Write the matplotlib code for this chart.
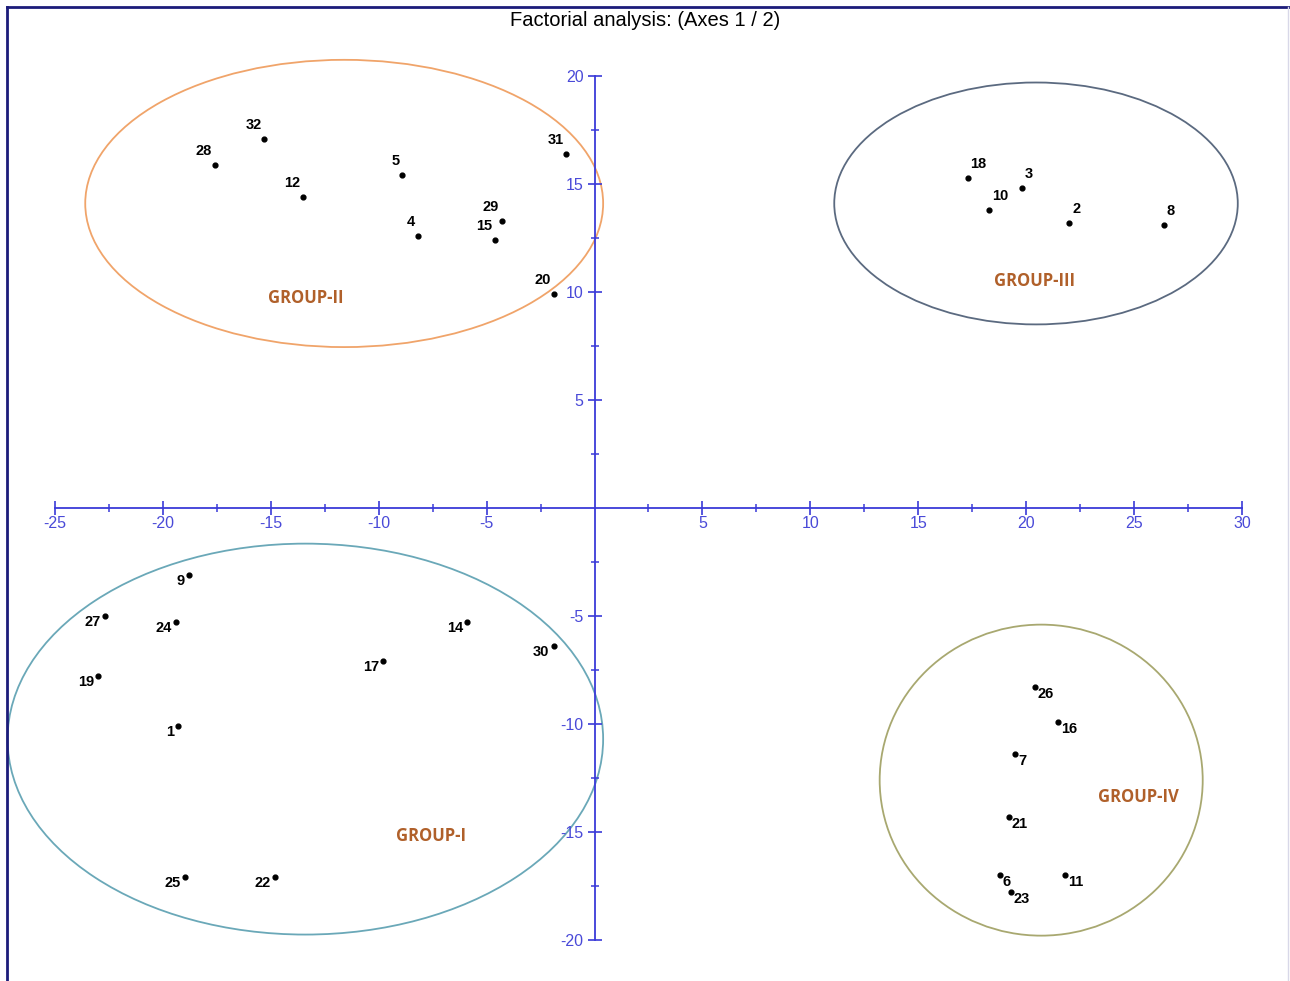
import matplotlib.pyplot as plt
import numpy as np
from matplotlib.patches import Ellipse
from matplotlib.lines import Line2D

plt.rcParams["axes.unicode_minus"] = False
plt.rcParams["font.family"] = ["Liberation Sans", "DejaVu Sans"]

# observation scores on axes 1 / 2, by group
g1_ids = ["9", "27", "24", "19", "1", "14", "17", "30", "25", "22"]
g1_x = [-18.8, -22.7, -19.4, -23.0, -19.3, -5.9, -9.8, -1.9, -19.0, -14.8]
g1_y = [-3.1, -5.0, -5.3, -7.8, -10.1, -5.3, -7.1, -6.4, -17.1, -17.1]

g2_ids = ["28", "32", "12", "5", "4", "29", "15", "31", "20"]
g2_x = [-17.6, -15.3, -13.5, -8.9, -8.2, -4.3, -4.6, -1.3, -1.9]
g2_y = [15.9, 17.1, 14.4, 15.4, 12.6, 13.3, 12.4, 16.4, 9.9]

g3_ids = ["18", "3", "10", "2", "8"]
g3_x = [17.3, 19.8, 18.3, 22.0, 26.4]
g3_y = [15.3, 14.8, 13.8, 13.2, 13.1]

g4_ids = ["26", "16", "7", "21", "6", "23", "11"]
g4_x = [20.4, 21.5, 19.5, 19.2, 18.8, 19.3, 21.8]
g4_y = [-8.3, -9.9, -11.4, -14.3, -17.0, -17.8, -17.0]

x_ticks = [-25, -20, -15, -10, -5, 5, 10, 15, 20, 25, 30]
y_ticks = [-20, -15, -10, -5, 5, 10, 15, 20]


fig = plt.figure(figsize=(12.9, 9.81), dpi=100)
ax = fig.add_axes([0, 0, 1, 1])
ax.set_xlim(-27.55, 32.23)
ax.set_ylim(-21.9, 23.52)

axis_col = "#3a3ad8"
lab_col = "#4a4ad8"

# axes through the origin
for s in ["top", "right"]:
    ax.spines[s].set_visible(False)
ax.spines["left"].set_position(("data", 0))
ax.spines["bottom"].set_position(("data", 0))
ax.spines["left"].set_bounds(-20, 20)
ax.spines["bottom"].set_bounds(-25, 30)
for s in ["left", "bottom"]:
    ax.spines[s].set_color(axis_col)
    ax.spines[s].set_linewidth(1.3)

ax.set_xticks(x_ticks)
ax.set_yticks(y_ticks)
ax.set_xticks(np.arange(-22.5, 30, 5), minor=True)
ax.set_yticks(np.arange(-17.5, 20, 5), minor=True)
ax.tick_params(which="major", direction="inout", length=10, width=1.2,
               color=axis_col, labelcolor=lab_col, labelsize=11.5)
ax.tick_params(axis="x", which="major", pad=1)
ax.tick_params(axis="y", which="major", pad=3)
ax.tick_params(which="minor", direction="inout", length=6, width=1.1, color=axis_col)
ax.set_facecolor("white")

# ellipses around groups
ax.add_patch(Ellipse((-11.6, 14.1), 24.0, 13.3, fill=False, ec="#f0a46a", lw=1.3))
ax.add_patch(Ellipse((20.46, 14.1), 18.7, 11.2, fill=False, ec="#5b6a80", lw=1.3))
ax.add_patch(Ellipse((-13.4, -10.7), 27.6, 18.1, fill=False, ec="#6aa8b8", lw=1.3))
ax.add_patch(Ellipse((20.7, -12.6), 14.97, 14.4, fill=False, ec="#a8a870", lw=1.3))

groups = [
    (g1_ids, g1_x, g1_y, (-3, -4), "right", "center"),
    (g2_ids, g2_x, g2_y, (-2, 5), "right", "bottom"),
    (g3_ids, g3_x, g3_y, (2, 5), "left", "bottom"),
    (g4_ids, g4_x, g4_y, (2, -5), "left", "center"),
]
for ids, xs, ys, off, ha, va in groups:
    ax.scatter(xs, ys, s=12, color="black", zorder=3)
    for lab, x, y in zip(ids, xs, ys):
        ax.annotate(lab, (x, y), xytext=off, textcoords="offset points",
                    ha=ha, va=va, fontsize=10.5, fontweight="bold")

gcol = "#b0602a"
for txt, x, y in [("GROUP-II", -13.4, 9.7), ("GROUP-III", 20.4, 10.5),
                  ("GROUP-I", -7.6, -15.2), ("GROUP-IV", 25.2, -13.4)]:
    ax.text(x, y, txt, color=gcol, fontsize=12, fontweight="bold",
            ha="center", va="center", family="Open Sans")

fig.text(0.5, 0.979, "Factorial analysis: (Axes 1 / 2)", ha="center", va="center",
         fontsize=14.5)

# frame
fig.add_artist(Line2D([7 / 1290, 7 / 1290], [0, 1 - 7 / 981], color="#1c1c7a", lw=2))
fig.add_artist(Line2D([7 / 1290, 1], [1 - 7 / 981, 1 - 7 / 981], color="#1c1c7a", lw=2))
fig.add_artist(Line2D([1288 / 1290, 1288 / 1290], [0, 1 - 7 / 981], color="#d8d8e8", lw=1))

fig.savefig("out.png", dpi=100)
